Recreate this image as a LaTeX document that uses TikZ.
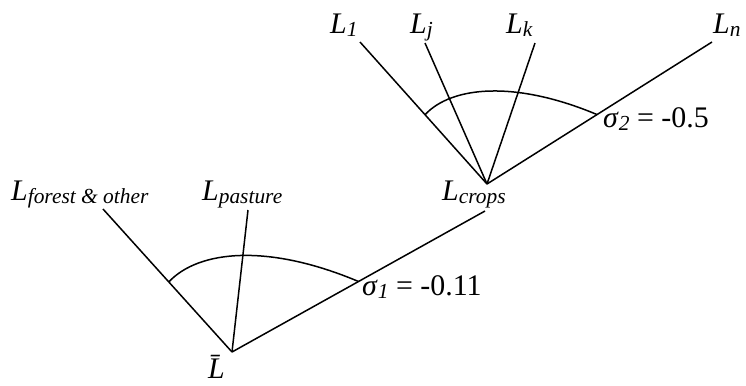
\documentclass[tikz,border=0pt]{standalone}
\usepackage{fontspec}
\setmainfont{Liberation Serif}
\usetikzlibrary{calc}
\newcommand\lsub[1]{\raisebox{-3bp}{\fontsize{21.5}{23}\selectfont\itshape #1}}

\begin{document}
\begin{tikzpicture}[x=1bp, y=-1bp,
 lab/.style={inner sep=0pt, anchor=base west, font=\fontsize{30}{32}\selectfont},
 br/.style={line width=1.5bp},
 nest/.style={line width=1.5bp}]
 \useasboundingbox (0,0) rectangle (746,385);

 % --- lower nest ---
 \coordinate (lbar) at (232,352);
 \coordinate (forest) at (103,209);
 \coordinate (pasture) at (248,210);
 \coordinate (cropsin) at (485,211);
 \coordinate (s1a) at ($(lbar)!0.49!(forest)$);
 \coordinate (s1b) at ($(lbar)!0.5!(cropsin)$);

 \draw[br] (lbar) -- (forest);
 \draw[br] (lbar) -- (pasture);
 \draw[br] (lbar) -- (cropsin);
 \draw[nest] (s1a) .. controls +(30,-32) and +(-90,-38) .. (s1b);

 % --- upper nest ---
 \coordinate (croot) at (487,184);
 \coordinate (l1) at (360,42);
 \coordinate (lj) at (425,43);
 \coordinate (lk) at (535,43);
 \coordinate (ln) at (712,42);
 \coordinate (s2a) at ($(croot)!0.488!(l1)$);
 \coordinate (s2b) at ($(croot)!0.489!(ln)$);

 \draw[br] (croot) -- (l1);
 \draw[br] (croot) -- (lj);
 \draw[br] (croot) -- (lk);
 \draw[br] (croot) -- (ln);
 \draw[nest] (s2a) .. controls +(27,-29) and +(-81,-34) .. (s2b);

 % --- labels ---
 \node[lab] (tforest) at (11,200) {\textit{L}\lsub{forest \& other}};
 \node[lab] (tpasture) at (202,200) {\textit{L}\lsub{pasture}};
 \node[lab] (tcrops) at (442,200) {\textit{L}\lsub{crops}};
 \node[lab] (tlbar) at (208,378) {\textit{\=L}};
 \node[lab] (t1) at (330,33) {\textit{L}\lsub{1}};
 \node[lab] (tj) at (410,33) {\textit{L}\lsub{j}};
 \node[lab] (tk) at (506,33) {\textit{L}\lsub{k}};
 \node[lab] (tn) at (713,33) {\textit{L}\lsub{n}};
 \node[lab] (sig2) at (603,127) {\textit{σ}\lsub{2} = -0.5};
 \node[lab] (sig1) at (362,295) {\textit{σ}\lsub{1} = -0.11};
\end{tikzpicture}
\end{document}
